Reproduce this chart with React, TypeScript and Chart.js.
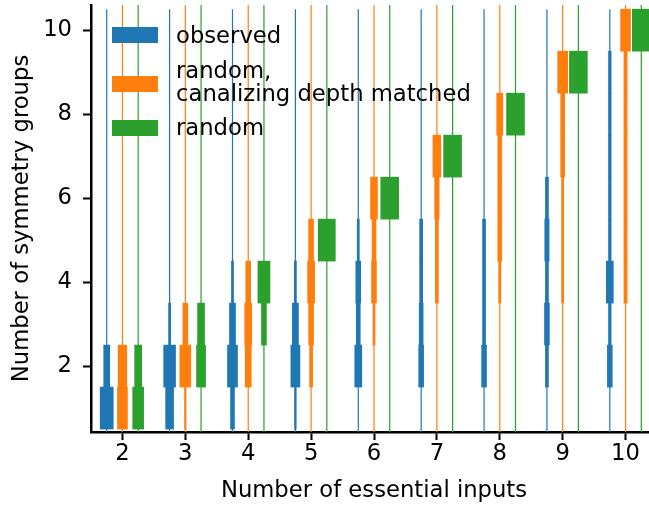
import React, { useEffect, useRef } from "react";
import { Chart, registerables } from "chart.js";

Chart.register(...registerables);

// ---- data ----
const essentialInputs = [2, 3, 4, 5, 6, 7, 8, 9, 10];
const yTickValues = [2, 4, 6, 8, 10];
const seriesNames = ["observed", "random,\ncanalizing depth matched", "random"];
const seriesColors = ["#1f77b4", "#ff7f0e", "#2ca02c"];
const seriesOffsets = [-0.25, 0, 0.25];
const lineTops = [10.5, 10.6, 10.6];

// relative frequency of k symmetry groups (k = 1..n), one row per number of essential inputs
const observed = [
  [0.69, 0.32],
  [0.42, 0.63, 0.11],
  [0.21, 0.53, 0.32, 0.11],
  [0.09, 0.48, 0.32, 0.11, 0],
  [0, 0.37, 0.21, 0.26, 0.11, 0],
  [0, 0.26, 0.21, 0.16, 0.16, 0, 0],
  [0, 0.26, 0.16, 0.16, 0.16, 0, 0, 0],
  [0, 0.16, 0.26, 0.16, 0.23, 0.16, 0, 0, 0],
  [0, 0.26, 0.14, 0.37, 0.14, 0.14, 0.14, 0.14, 0.14, 0],
];
const canalizingMatched = [
  [0.53, 0.46],
  [0.08, 0.58, 0.26],
  [0, 0.32, 0.37, 0.26],
  [0, 0.16, 0.26, 0.37, 0.26],
  [0, 0, 0.11, 0.26, 0.21, 0.37],
  [0, 0, 0, 0.16, 0.16, 0.24, 0.42],
  [0, 0, 0, 0.12, 0.21, 0.21, 0.21, 0.32],
  [0, 0, 0, 0.11, 0.11, 0.11, 0.21, 0.21, 0.53],
  [0, 0, 0, 0.17, 0.17, 0.17, 0.17, 0.17, 0.17, 0.53],
];
const randomFunctions = [
  [0.58, 0.37],
  [0, 0.48, 0.37],
  [0, 0, 0.26, 0.64],
  [0, 0, 0, 0, 0.9],
  [0, 0, 0, 0, 0, 0.95],
  [0, 0, 0, 0, 0, 0, 0.95],
  [0, 0, 0, 0, 0, 0, 0, 0.95],
  [0, 0, 0, 0, 0, 0, 0, 0, 0.95],
  [0, 0, 0, 0, 0, 0, 0, 0, 0, 0.95],
];
const allSeries = [observed, canalizingMatched, randomFunctions];

const WIDTH_SCALE = 0.3;
const X_MIN = 1.5;
const X_MAX = 10.5;
const Y_MIN = 0.43;
const Y_MAX = 10.6;

const FONT = "'DejaVu Sans', sans-serif";
const FONT_SIZE = 22.7;

function barData(freqs: number[][], offset: number) {
  const pts: any[] = [];
  freqs.forEach((row, i) => {
    const c = essentialInputs[i] + offset;
    row.forEach((f, j) => {
      if (f > 0) {
        const half = (f * WIDTH_SCALE) / 2;
        pts.push({ y: j + 1, x: [c - half, c + half] });
      }
    });
  });
  return pts;
}

function lineData(offset: number, top: number) {
  const pts: any[] = [];
  essentialInputs.forEach((n) => {
    pts.push({ x: n + offset, y: Y_MIN }, { x: n + offset, y: top }, { x: n + offset, y: null });
  });
  return pts;
}

const legendPlugin = {
  id: "mplLegend",
  afterDraw(chart: any) {
    const { ctx, chartArea } = chart;
    const left = chartArea.left + 21;
    const top = chartArea.top;
    const boxTops = [22, 71, 115];
    const baselines = [[38], [73, 96], [130]];
    ctx.save();
    ctx.font = `${FONT_SIZE}px ${FONT}`;
    ctx.textBaseline = "alphabetic";
    ctx.textAlign = "left";
    seriesNames.forEach((name, i) => {
      ctx.fillStyle = seriesColors[i];
      ctx.fillRect(left, top + boxTops[i], 46, 16);
      ctx.fillStyle = "#000";
      name.split("\n").forEach((line, li) => {
        ctx.fillText(line, left + 64, top + baselines[i][li]);
      });
    });
    ctx.restore();
  },
};

export default function App() {
  const ref = useRef<HTMLCanvasElement>(null);
  useEffect(() => {
    const datasets: any[] = [];
    allSeries.forEach((s, i) => {
      datasets.push({
        type: "bar",
        label: seriesNames[i],
        indexAxis: "y",
        data: barData(s, seriesOffsets[i]),
        backgroundColor: seriesColors[i],
        borderWidth: 0,
        grouped: false,
        barPercentage: 1,
        categoryPercentage: 1,
        xAxisID: "x",
        yAxisID: "y",
      });
    });
    allSeries.forEach((_, i) => {
      datasets.push({
        type: "line",
        label: "_line" + i,
        data: lineData(seriesOffsets[i], lineTops[i]),
        borderColor: seriesColors[i],
        borderWidth: 1.2,
        pointRadius: 0,
        spanGaps: false,
        fill: false,
        xAxisID: "x",
        yAxisID: "y",
      });
    });

    const tickFont = { family: FONT, size: FONT_SIZE };
    const gridOpts = {
      display: true,
      offset: false,
      drawOnChartArea: false,
      drawTicks: true,
      tickLength: 8,
      tickWidth: 2,
      tickColor: "#000",
    };
    const chart = new Chart(ref.current!, {
      type: "bar",
      data: { datasets },
      options: {
        animation: false,
        responsive: false,
        devicePixelRatio: 1,
        layout: { padding: { top: 5, right: 13, left: 0, bottom: 0 } },
        plugins: { legend: { display: false }, tooltip: { enabled: false } },
        scales: {
          x: {
            type: "linear",
            offset: false,
            min: X_MIN,
            max: X_MAX,
            afterBuildTicks: (s: any) => {
              s.ticks = essentialInputs.map((v) => ({ value: v }));
            },
            afterFit: (s: any) => {
              s.height = 78;
              s.paddingLeft = 0;
              s.paddingRight = 0;
            },
            grid: gridOpts,
            border: { display: true, color: "#000", width: 2.5 },
            ticks: { color: "#000", font: tickFont, padding: 0, maxRotation: 0, autoSkip: false },
            title: { display: true, text: "Number of essential inputs", color: "#000", font: tickFont, padding: { top: 0, bottom: 5 } },
          },
          y: {
            type: "linear",
            offset: false,
            min: Y_MIN,
            max: Y_MAX,
            afterBuildTicks: (s: any) => {
              s.ticks = yTickValues.map((v) => ({ value: v }));
            },
            afterFit: (s: any) => {
              s.width = 91;
              s.paddingTop = 0;
              s.paddingBottom = 0;
            },
            grid: gridOpts,
            border: { display: true, color: "#000", width: 2.5 },
            ticks: { color: "#000", font: tickFont, padding: 11, autoSkip: false },
            title: { display: true, text: "Number of symmetry groups", color: "#000", font: tickFont, padding: { top: 8, bottom: 0 } },
          },
        },
      },
      plugins: [legendPlugin],
    } as any);
    return () => chart.destroy();
  }, []);

  return (
    <div style={{ position: "absolute", left: 0, top: 0, width: 649, height: 510, overflow: "hidden", background: "#fff" }}>
      <canvas ref={ref} width={670} height={510} style={{ display: "block", width: 670, height: 510 }} />
    </div>
  );
}
